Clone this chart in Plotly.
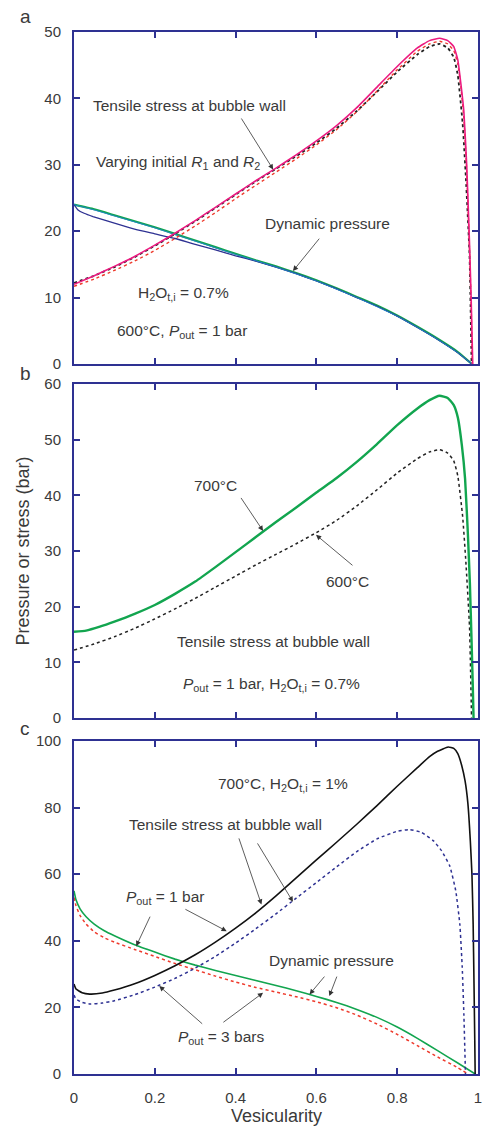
import plotly.graph_objects as go

# ---------------- Panel a: 600 C, Pout = 1 bar, H2O 0.7 %, varying R1, R2 ----------------
a_tens1_x = [0, 0.05, 0.1, 0.15, 0.2, 0.25, 0.3, 0.35, 0.4, 0.45, 0.5, 0.55, 0.6, 0.65, 0.7,
             0.75, 0.8, 0.85, 0.88, 0.905, 0.925, 0.94, 0.95, 0.958, 0.965, 0.972, 0.978, 0.983, 0.987]
a_tens1_y = [12.0, 13.3, 14.7, 16.2, 17.9, 19.7, 21.6, 23.6, 25.6, 27.6, 29.5, 31.5, 33.6, 35.9, 38.6,
             41.7, 44.8, 47.6, 48.7, 49.05, 48.7, 47.8, 45.8, 42.0, 38.0, 30.0, 20.0, 10.0, 0.0]
a_tens2_x = [0, 0.05, 0.1, 0.15, 0.2, 0.25, 0.3, 0.35, 0.4, 0.45, 0.5, 0.55, 0.6, 0.65, 0.7,
             0.75, 0.8, 0.85, 0.88, 0.905, 0.925, 0.94, 0.95, 0.958, 0.965, 0.972, 0.978, 0.983, 0.986]
a_tens2_y = [11.7, 12.8, 14.1, 15.5, 17.1, 18.9, 20.8, 22.8, 24.9, 26.9, 28.9, 30.9, 33.0, 35.3, 38.0,
             41.1, 44.3, 47.1, 48.2, 48.6, 48.2, 47.2, 45.2, 41.5, 37.0, 29.0, 19.0, 9.0, 0.0]
# 600 C reference case (also used in panel b)
t600_x = [0, 0.05, 0.1, 0.15, 0.2, 0.25, 0.3, 0.35, 0.4, 0.45, 0.5, 0.55, 0.6, 0.65, 0.7,
          0.75, 0.8, 0.85, 0.88, 0.905, 0.925, 0.94, 0.95, 0.962, 0.97, 0.979, 0.984]
t600_y = [12.2, 13.3, 14.6, 16.1, 17.8, 19.6, 21.5, 23.5, 25.5, 27.5, 29.4, 31.3, 33.3, 35.5, 38.1,
          41.0, 44.0, 46.6, 47.8, 48.2, 47.6, 46.2, 43.5, 36.2, 28.0, 16.4, 0.0]

a_dyn1_x = [0, 0.05, 0.1, 0.15, 0.2, 0.25, 0.3, 0.35, 0.4, 0.45, 0.5, 0.55, 0.6, 0.65, 0.7,
            0.75, 0.8, 0.85, 0.9, 0.95, 0.985]
a_dyn1_y = [24.0, 23.3, 22.4, 21.5, 20.6, 19.6, 18.6, 17.6, 16.6, 15.6, 14.7, 13.7, 12.6, 11.4, 10.1,
            8.8, 7.3, 5.6, 3.8, 1.8, 0.0]
a_dyn2_x = [0, 0.01, 0.025, 0.047, 0.1, 0.15, 0.2, 0.25, 0.3, 0.35, 0.4, 0.45, 0.5, 0.55, 0.6, 0.65,
            0.7, 0.75, 0.8, 0.85, 0.9, 0.95, 0.985]
a_dyn2_y = [24.0, 23.2, 22.7, 22.2, 21.2, 20.3, 19.6, 18.9, 18.0, 17.2, 16.3, 15.5, 14.6, 13.6, 12.5, 11.3,
            10.0, 8.7, 7.2, 5.5, 3.7, 1.7, 0.0]
a_dyn3_x = [0, 0.05, 0.1, 0.2, 0.3, 0.4, 0.5, 0.6, 0.7, 0.8, 0.85, 0.9, 0.95, 0.985]
a_dyn3_y = [24.0, 23.2, 22.3, 20.5, 18.5, 16.5, 14.6, 12.5, 10.0, 7.2, 5.5, 3.7, 1.7, 0.0]

# ---------------- Panel b: 700 C vs 600 C tensile stress ----------------
t700_x = [0, 0.03, 0.064, 0.1, 0.15, 0.2, 0.25, 0.3, 0.35, 0.4, 0.45, 0.5, 0.55, 0.6, 0.65, 0.7,
          0.75, 0.8, 0.85, 0.88, 0.905, 0.925, 0.94, 0.95, 0.96, 0.968, 0.975, 0.98, 0.984, 0.987, 0.989]
t700_y = [15.5, 15.7, 16.4, 17.3, 18.7, 20.3, 22.3, 24.5, 27.1, 29.8, 32.5, 35.2, 37.8, 40.5, 43.1, 46.0,
          49.2, 52.6, 55.6, 57.1, 57.9, 57.5, 56.2, 54.0, 49.0, 43.0, 33.0, 24.0, 14.0, 6.0, 0.0]

# ---------------- Panel c: 700 C, H2O 1 %, Pout = 1 bar vs 3 bars ----------------
c_t1_x = [0, 0.005, 0.02, 0.039, 0.07, 0.1, 0.15, 0.2, 0.25, 0.3, 0.35, 0.4, 0.45, 0.5, 0.55, 0.6,
          0.65, 0.7, 0.75, 0.8, 0.85, 0.88, 0.9, 0.926, 0.94, 0.95, 0.96, 0.968, 0.975, 0.981, 0.985,
          0.988, 0.99, 0.992, 0.993]
c_t1_y = [27.0, 25.5, 24.4, 24.0, 24.3, 25.2, 27.1, 29.6, 32.5, 35.8, 39.6, 43.8, 48.4, 53.5, 58.9, 64.3,
          69.6, 75.0, 80.6, 86.4, 92.0, 95.3, 96.9, 98.2, 97.8, 96.2, 92.5, 88.0, 81.2, 70.0, 60.0,
          45.0, 28.0, 10.0, 0.0]
c_t3_x = [0, 0.005, 0.02, 0.04, 0.07, 0.1, 0.15, 0.2, 0.25, 0.3, 0.35, 0.4, 0.45, 0.5, 0.55, 0.6,
          0.65, 0.7, 0.75, 0.8, 0.83, 0.86, 0.89, 0.91, 0.93, 0.945, 0.955, 0.961, 0.965, 0.969]
c_t3_y = [23.7, 22.5, 21.5, 21.0, 21.3, 22.0, 23.8, 26.1, 28.7, 31.8, 35.3, 39.3, 43.6, 48.1, 52.8, 57.5,
          62.2, 66.8, 70.6, 72.9, 73.4, 72.6, 70.0, 67.0, 62.5, 55.0, 45.0, 32.0, 18.0, 0.0]
c_d1_x = [0, 0.005, 0.015, 0.03, 0.05, 0.075, 0.1, 0.15, 0.2, 0.25, 0.3, 0.35, 0.4, 0.45, 0.5, 0.55,
          0.6, 0.65, 0.7, 0.75, 0.8, 0.85, 0.9, 0.95, 0.993]
c_d1_y = [55.0, 52.3, 49.6, 47.2, 45.0, 43.0, 41.5, 38.8, 36.6, 34.5, 32.7, 31.1, 29.6, 28.1, 26.6, 25.0,
          23.3, 21.5, 19.4, 17.0, 14.1, 10.7, 7.0, 3.3, 0.0]
c_d3_x = [0, 0.005, 0.015, 0.03, 0.05, 0.075, 0.1, 0.15, 0.2, 0.25, 0.3, 0.35, 0.4, 0.45, 0.5, 0.55,
          0.6, 0.65, 0.7, 0.75, 0.8, 0.85, 0.9, 0.95, 0.975]
c_d3_y = [53.0, 50.5, 47.6, 45.0, 42.7, 40.9, 39.6, 37.4, 35.3, 33.2, 31.3, 29.4, 27.6, 26.0, 24.6, 23.2,
          21.7, 19.9, 17.7, 15.0, 11.9, 8.5, 5.1, 1.9, 0.0]

x_ticks = [0, 0.2, 0.4, 0.6, 0.8, 1]
x_tick_text = ["0", "0.2", "0.4", "0.6", "0.8", "1"]

NAVY = "#2e3192"
TXT = "#3a3a3a"
FONT = "Liberation Sans"

fig = go.Figure()


def add(x, y, color, width, dash, ax):
    fig.add_trace(go.Scatter(x=x, y=y, mode="lines",
                             line=dict(color=color, width=width, dash=dash, shape="spline", smoothing=0.4),
                             xaxis="x" + ax, yaxis="y" + ax, showlegend=False, hoverinfo="skip"))


# panel a
add(a_dyn1_x, a_dyn1_y, "#12a54f", 2.2, "solid", "")
add(a_dyn2_x, a_dyn2_y, "#2e3192", 1.3, "solid", "")
add(a_dyn3_x, a_dyn3_y, "#1f86c8", 1.0, "solid", "")
add(t600_x, t600_y, "#222222", 1.8, "dot", "")
add(a_tens2_x, a_tens2_y, "#ee3a2c", 1.4, "dot", "")
add(a_tens1_x, a_tens1_y, "#ec1a80", 1.6, "solid", "")
# panel b
add(t600_x, t600_y, "#222222", 1.5, "dot", "2")
add(t700_x, t700_y, "#12a54f", 2.4, "solid", "2")
# panel c
add(c_d3_x, c_d3_y, "#ee3a2c", 1.5, "dot", "3")
add(c_d1_x, c_d1_y, "#12a54f", 1.6, "solid", "3")
add(c_t3_x, c_t3_y, "#2e3192", 1.5, "dot", "3")
add(c_t1_x, c_t1_y, "#111111", 1.6, "solid", "3")

H = 1074 - 32
def dom(top, bottom):
    return [(1074 - bottom) / H, (1074 - top) / H]

axis_common = dict(showline=True, linecolor=NAVY, linewidth=2, mirror="ticks", ticks="inside",
                   ticklen=6, tickwidth=2, tickcolor=NAVY, showgrid=False, zeroline=False,
                   tickfont=dict(family=FONT, size=15, color=TXT))

fig.update_layout(
    width=489, height=1126,
    margin=dict(l=74, r=7, t=32, b=52),
    plot_bgcolor="white", paper_bgcolor="white",
    font=dict(family=FONT, size=15, color=TXT),
    xaxis=dict(domain=[0, 1], range=[0, 1], tickvals=x_ticks, showticklabels=False, anchor="y", **axis_common),
    yaxis=dict(domain=dom(32, 364), range=[0, 50], dtick=10, anchor="x", ticklabelstandoff=8, **axis_common),
    xaxis2=dict(domain=[0, 1], range=[0, 1], tickvals=x_ticks, showticklabels=False, anchor="y2", **axis_common),
    yaxis2=dict(domain=dom(384, 718), range=[0, 60], dtick=10, anchor="x2", ticklabelstandoff=8, **axis_common),
    xaxis3=dict(domain=[0, 1], range=[0, 1], tickvals=x_ticks, ticktext=x_tick_text, anchor="y3",
                ticklabelstandoff=9, **axis_common),
    yaxis3=dict(domain=dom(741, 1074), range=[0, 100], dtick=20, anchor="x3", ticklabelstandoff=8, **axis_common),
)

ann = []


def text(x, y, s, ax, size=15.5, **kw):
    d = dict(x=x, y=y, text=s, showarrow=False, xref="x" + ax, yref="y" + ax,
             xanchor="center", yanchor="middle", font=dict(family=FONT, size=size, color=TXT))
    d.update(kw)
    ann.append(d)


def arrow(x0, y0, x1, y1, ax):
    ann.append(dict(x=x1, y=y1, ax=x0, ay=y0, xref="x" + ax, yref="y" + ax, axref="x" + ax, ayref="y" + ax,
                    text="", showarrow=True, arrowhead=2, arrowsize=1.3, arrowwidth=0.8,
                    arrowcolor="#333333", standoff=0, startstandoff=0))


# panel a texts
text(0.287, 39.0, "Tensile stress at bubble wall", "")
arrow(0.412, 37.2, 0.493, 29.3, "")
text(0.257, 30.3, "Varying initial <i>R</i><sub>1</sub> and <i>R</i><sub>2</sub>", "")
text(0.627, 21.2, "Dynamic pressure", "")
arrow(0.610, 19.1, 0.542, 14.0, "")
text(0.272, 10.6, "H<sub>2</sub>O<sub>t,i</sub> = 0.7%", "")
text(0.267, 4.9, "600°C, <i>P</i><sub>out</sub> = 1 bar", "")
# panel b texts
text(0.350, 41.7, "700°C", "2")
arrow(0.411, 39.8, 0.468, 33.6, "2")
text(0.676, 24.5, "600°C", "2")
arrow(0.693, 27.2, 0.599, 32.9, "2")
text(0.495, 13.8, "Tensile stress at bubble wall", "2")
text(0.490, 6.0, "<i>P</i><sub>out</sub> = 1 bar, H<sub>2</sub>O<sub>t,i</sub> = 0.7%", "2")
# panel c texts
text(0.517, 87.0, "700°C, H<sub>2</sub>O<sub>t,i</sub> = 1%", "3")
text(0.376, 75.0, "Tensile stress at bubble wall", "3")
arrow(0.407, 71.2, 0.464, 50.9, "3")
arrow(0.452, 69.7, 0.542, 51.7, "3")
text(0.225, 53.0, "<i>P</i><sub>out</sub> = 1 bar", "3")
arrow(0.190, 47.7, 0.154, 38.4, "3")
arrow(0.272, 49.7, 0.378, 42.9, "3")
text(0.364, 11.0, "<i>P</i><sub>out</sub> = 3 bars", "3")
arrow(0.321, 14.7, 0.211, 26.4, "3")
arrow(0.366, 15.2, 0.468, 24.4, "3")
text(0.637, 34.0, "Dynamic pressure", "3")
arrow(0.623, 29.7, 0.583, 23.9, "3")
arrow(0.652, 29.7, 0.632, 23.4, "3")

# panel letters, axis titles
for lab, gy in (("a", 17), ("b", 373), ("c", 728)):
    ann.append(dict(x=(25 - 74) / 408, y=(1074 - gy) / H, xref="paper", yref="paper", text=lab,
                    showarrow=False, xanchor="center", yanchor="middle",
                    font=dict(family=FONT, size=19, color=TXT)))
ann.append(dict(x=(22 - 74) / 408, y=(1074 - 551) / H, xref="paper", yref="paper",
                text="Pressure or stress (bar)", textangle=-90, showarrow=False,
                xanchor="center", yanchor="middle", font=dict(family=FONT, size=18, color=TXT)))
ann.append(dict(x=(278 - 74) / 408, y=(1074 - 1116) / H, xref="paper", yref="paper",
                text="Vesicularity", showarrow=False, xanchor="center", yanchor="middle",
                font=dict(family=FONT, size=18, color=TXT)))

fig.update_layout(annotations=ann)
fig.write_html("out.html", config={"displayModeBar": False},
               post_script="document.body.style.margin='0';document.body.style.overflow='hidden';")
